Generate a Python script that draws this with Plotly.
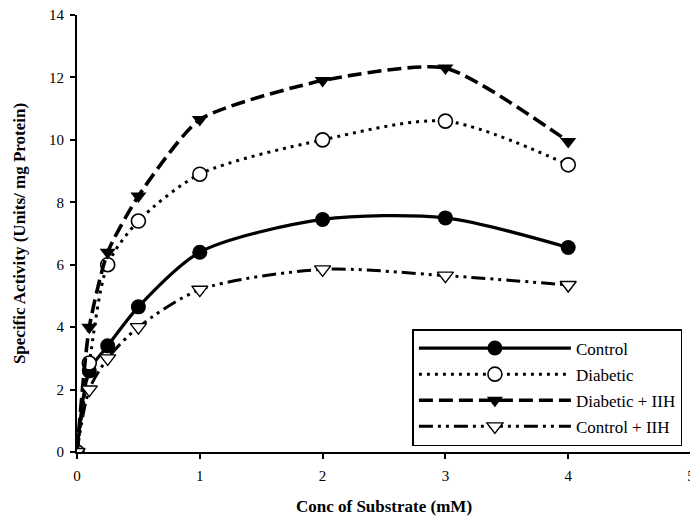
import plotly.graph_objects as go

conc = [0, 0.1, 0.25, 0.5, 1, 2, 3, 4]
control = [0, 2.6, 3.4, 4.65, 6.4, 7.45, 7.5, 6.55]
diabetic = [0, 2.85, 6.0, 7.4, 8.9, 10.0, 10.6, 9.2]
diabetic_iih = [0, 4.0, 6.4, 8.2, 10.65, 11.9, 12.3, 9.95]
control_iih = [0, 2.0, 3.0, 4.0, 5.2, 5.85, 5.65, 5.35]

names = ["Control", "Diabetic", "Diabetic + IIH", "Control + IIH"]
x_ticks = [0, 1, 2, 3, 4, 5]
y_ticks = [0, 2, 4, 6, 8, 10, 12, 14]

fig = go.Figure()
fig.add_trace(go.Scatter(
    x=conc, y=control, name=names[0], mode="lines+markers", legendgroup="a",
    line=dict(color="black", width=3.2, shape="spline", smoothing=0.8),
    marker=dict(symbol="circle", size=15, color="black")))
fig.add_trace(go.Scatter(
    x=conc, y=diabetic, name=names[1], mode="lines+markers", legendgroup="b",
    line=dict(color="black", width=3, dash="3px,5px", shape="spline", smoothing=0.8),
    marker=dict(symbol="circle", size=14, color="white", line=dict(width=1.6, color="black"))))
fig.add_trace(go.Scatter(
    x=conc, y=diabetic_iih, name=names[2], mode="lines+markers", legendgroup="c",
    line=dict(color="black", width=3.6, dash="14px,6px", shape="spline", smoothing=0.6),
    marker=dict(symbol="triangle-down", size=14, color="black")))
fig.add_trace(go.Scatter(
    x=conc, y=control_iih, name=names[3], mode="lines+markers", legendgroup="d",
    line=dict(color="black", width=3, dash="14px,5px,3px,5px,3px,5px", shape="spline", smoothing=0.8),
    marker=dict(symbol="triangle-down", size=14, color="white", line=dict(width=1.4, color="black"))))

fig.update_layout(
    width=690, height=510,
    paper_bgcolor="white", plot_bgcolor="white",
    margin=dict(l=69, r=7, t=7, b=66),
    font=dict(family="Liberation Serif, Times New Roman, serif", color="black", size=14),
    legend=dict(
        x=0.986, y=0.0137, xanchor="right", yanchor="bottom",
        bordercolor="black", borderwidth=1.5, bgcolor="white",
        font=dict(size=17, family="Liberation Serif, serif"),
        itemwidth=152, tracegroupgap=1,
    ),
    showlegend=True,
)
fig.update_xaxes(
    range=[0, 5], tickvals=x_ticks, ticktext=[str(v) for v in x_ticks],
    showline=True, linecolor="black", linewidth=1.8, ticks="outside",
    ticklen=5, tickwidth=1.5, tickcolor="black", showgrid=False, zeroline=False,
    automargin=False, ticklabelstandoff=4, ticklabeloverflow="allow",
    tickfont=dict(size=15, family="Liberation Serif, serif"),
    title=dict(text="<b>Conc of Substrate (mM)</b>", font=dict(size=17), standoff=17),
)
fig.update_yaxes(
    range=[0, 14], tickvals=y_ticks, ticktext=[str(v) for v in y_ticks],
    showline=True, linecolor="black", linewidth=1.8, ticks="outside",
    ticklen=5, tickwidth=1.5, tickcolor="black", showgrid=False, zeroline=False,
    automargin=False, ticklabelstandoff=3, ticklabeloverflow="allow",
    tickfont=dict(size=15, family="Liberation Serif, serif"),
    title=dict(text="<b>Specific Activity (Units/ mg Protein)</b>", font=dict(size=17), standoff=19),
)

fig.write_html("out.html")
